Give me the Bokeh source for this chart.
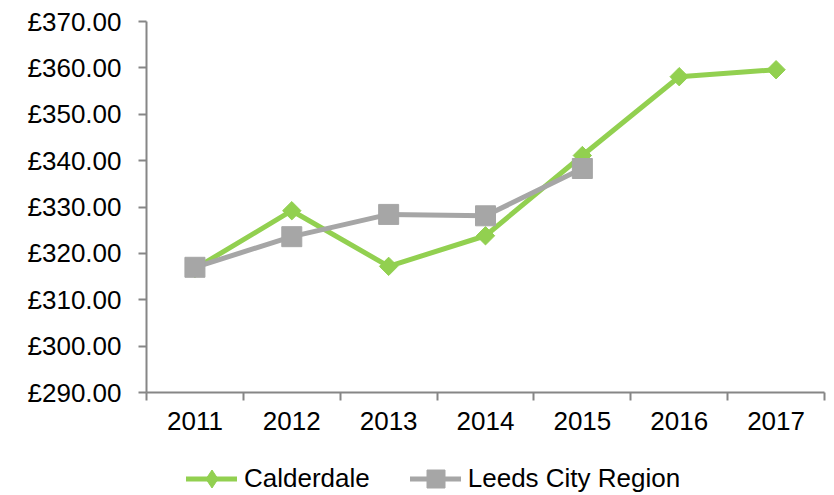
import math
from bokeh.plotting import figure
from bokeh.layouts import column
from bokeh.models import (Range1d, FixedTicker, PrintfTickFormatter, Legend, LegendItem,
                          ColumnDataSource)
from bokeh.embed import file_html
from bokeh.resources import INLINE

years = ["2011", "2012", "2013", "2014", "2015", "2016", "2017"]
calderdale = [316.7, 329.2, 317.2, 323.8, 341.1, 358.1, 359.6]
leeds = [317.0, 323.6, 328.4, 328.1, 338.3]
y_ticks = [290, 300, 310, 320, 330, 340, 350, 360, 370]
series_names = ["Calderdale", "Leeds City Region"]

GREEN = "#92D050"
GRAY = "#A6A6A6"
AXIS = "#868686"
FONT = "Liberation Sans"
FS = "26px"

p = figure(width=834, height=440, output_backend="svg", toolbar_location=None,
           x_range=Range1d(0, len(years)), y_range=Range1d(290, 370),
           min_border_left=146, min_border_right=10, min_border_top=21, min_border_bottom=48)
p.outline_line_color = None
p.xgrid.visible = False
p.ygrid.visible = False

xc = [i + 0.5 for i in range(len(years))]
src_c = ColumnDataSource(dict(x=xc, y=calderdale))
src_l = ColumnDataSource(dict(x=xc[:len(leeds)], y=leeds))

p.line("x", "y", source=src_c, line_color=GREEN, line_width=5)
p.scatter("x", "y", source=src_c, marker="square", size=13, angle=math.pi / 4,
          fill_color=GREEN, line_color=GREEN)
p.line("x", "y", source=src_l, line_color=GRAY, line_width=5)
p.scatter("x", "y", source=src_l, marker="square", size=20,
          fill_color=GRAY, line_color=GRAY)

# x axis: labels at category centres, ticks at category boundaries
xa = p.xaxis[0]
xa.ticker = FixedTicker(ticks=xc, minor_ticks=list(range(len(years) + 1)))
xa.major_label_overrides = {x: y for x, y in zip(xc, years)}
xa.major_tick_out = 0
xa.major_tick_in = 0
xa.minor_tick_out = 8
xa.minor_tick_in = 0
xa.minor_tick_line_color = AXIS
xa.minor_tick_line_width = 2
xa.axis_line_color = AXIS
xa.axis_line_width = 2
xa.major_label_text_font = FONT
xa.major_label_text_font_size = FS
xa.major_label_text_color = "black"
xa.major_label_standoff = 11

ya = p.yaxis[0]
ya.ticker = FixedTicker(ticks=y_ticks)
ya.formatter = PrintfTickFormatter(format="£%.2f")
ya.major_tick_out = 8
ya.major_tick_in = 0
ya.minor_tick_out = 0
ya.minor_tick_in = 0
ya.major_tick_line_color = AXIS
ya.major_tick_line_width = 2
ya.axis_line_color = AXIS
ya.axis_line_width = 2
ya.major_label_text_font = FONT
ya.major_label_text_font_size = FS
ya.major_label_text_color = "black"
ya.major_label_standoff = 17

# legend strip below the chart (its frame is aligned with the chart's frame);
# its renderers share the series data but lie outside the strip's visible range
q = figure(width=834, height=55, output_backend="svg", toolbar_location=None,
           x_range=Range1d(0, 1), y_range=Range1d(0, 1),
           x_axis_type=None, y_axis_type=None, min_border=0)
q.outline_line_color = None
q.xgrid.visible = False
q.ygrid.visible = False

lc = q.line("x", "y", source=src_c, line_color=GREEN, line_width=5, line_cap="round")
mc = q.scatter("x", "y", source=src_c, marker="diamond", fill_color=GREEN, line_color=GREEN)
ll = q.line("x", "y", source=src_l, line_color=GRAY, line_width=5, line_cap="round")
ml = q.scatter("x", "y", source=src_l, marker="square", fill_color=GRAY, line_color=GRAY)

legend = Legend(items=[LegendItem(label=series_names[0], renderers=[lc, mc]),
                       LegendItem(label=series_names[1], renderers=[ll, ml])],
                orientation="horizontal", location=(40, -6),
                padding=0, margin=0, spacing=40, label_standoff=7,
                glyph_width=51, glyph_height=45,
                label_text_font=FONT, label_text_font_size=FS,
                label_text_color="black",
                background_fill_alpha=0, border_line_alpha=0)
q.add_layout(legend)

open("out.html", "w").write(file_html(column(p, q, spacing=0), INLINE))
